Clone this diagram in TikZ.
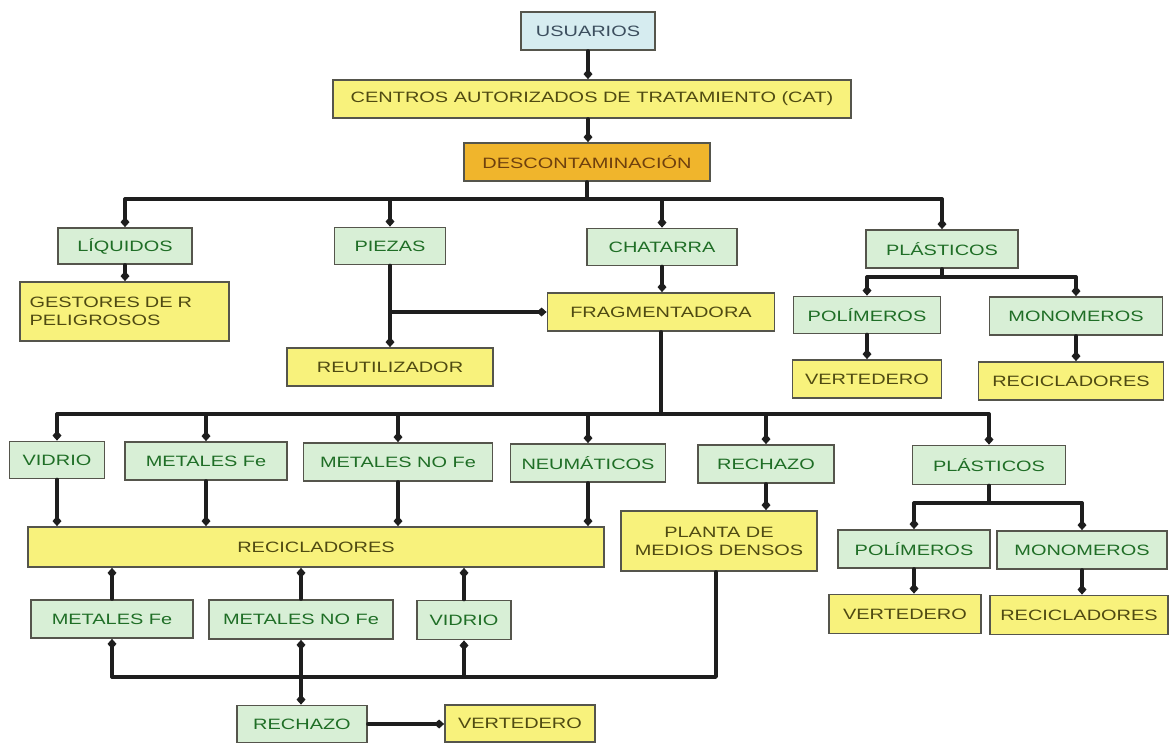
\documentclass[tikz,border=0pt]{standalone}
\usepackage{fontspec}
\setmainfont[FakeStretch=1.33]{Liberation Sans}
\usepackage{tikz}
\usetikzlibrary{arrows.meta,positioning}

\definecolor{cyanfill}{HTML}{D6ECF0}
\definecolor{cyantext}{HTML}{3C4E5E}
\definecolor{yelfill}{HTML}{F8F27C}
\definecolor{yeltext}{HTML}{4F4A12}
\definecolor{grfill}{HTML}{D8EFD6}
\definecolor{grtext}{HTML}{1F6E26}
\definecolor{orfill}{HTML}{F0B52C}
\definecolor{ortext}{HTML}{6E400E}
\definecolor{boxline}{HTML}{55554C}
\definecolor{conn}{HTML}{1E1E1E}

\tikzset{
  box/.style={draw=boxline, line width=1.8pt, inner sep=2pt, align=center,
    font=\fontsize{15}{18}\selectfont},
  usrbox/.style={box, fill=cyanfill, text=cyantext},
  yelbox/.style={box, fill=yelfill, text=yeltext},
  grbox/.style={box, fill=grfill, text=grtext},
  orbox/.style={box, fill=orfill, text=ortext},
  line/.style={draw=conn, line width=3.4pt, line cap=round, line join=round},
  arr/.style={line, -{Kite[length=10pt,width=9pt,inset=5pt]}},
}

\begin{document}
\begin{tikzpicture}[x=1pt,y=-1pt]
\useasboundingbox (0,0) rectangle (1170,742);

% upper chain
\node[usrbox, minimum width=134, minimum height=38] (usu) at (588,31) {USUARIOS};
\node[yelbox, minimum width=518, minimum height=38] (cat) at (592,99) {CENTROS AUTORIZADOS DE TRATAMIENTO (CAT)};
\node[orbox, minimum width=246, minimum height=38] (desc) at (587,162) {DESCONTAMINACIÓN};

% first split
\node[grbox, minimum width=134, minimum height=36] (liq) at (125,246) {LÍQUIDOS};
\node[grbox, minimum width=111, minimum height=37] (pie) at (390,246) {PIEZAS};
\node[grbox, minimum width=150, minimum height=37] (cha) at (662,247) {CHATARRA};
\node[grbox, minimum width=152, minimum height=38] (pla) at (942,249) {PLÁSTICOS};

\node[yelbox, minimum width=209, minimum height=59, text width=190, align=left] (gest) at (124.5,311.5) {GESTORES DE R\\PELIGROSOS};
\node[yelbox, minimum width=227, minimum height=38] (frag) at (661,312) {FRAGMENTADORA};
\node[yelbox, minimum width=206, minimum height=38] (reut) at (390,367) {REUTILIZADOR};
\node[grbox, minimum width=147, minimum height=37] (pol) at (867,315) {POLÍMEROS};
\node[grbox, minimum width=173, minimum height=38] (mon) at (1076,316) {MONOMEROS};
\node[yelbox, minimum width=149, minimum height=38] (ver) at (867,379) {VERTEDERO};
\node[yelbox, minimum width=185, minimum height=38] (rec) at (1071,381) {RECICLADORES};

% after fragmentadora
\node[grbox, minimum width=95, minimum height=37] (vid) at (57,460) {VIDRIO};
\node[grbox, minimum width=162, minimum height=38] (mfe) at (206,461) {METALES Fe};
\node[grbox, minimum width=189, minimum height=38] (mnf) at (398,462) {METALES NO Fe};
\node[grbox, minimum width=155, minimum height=38] (neu) at (588,463) {NEUMÁTICOS};
\node[grbox, minimum width=136, minimum height=38] (rch) at (766,464) {RECHAZO};
\node[grbox, minimum width=153, minimum height=39] (pl2) at (989,465) {PLÁSTICOS};

\node[yelbox, minimum width=576, minimum height=40] (rbig) at (316,547) {RECICLADORES};
\node[yelbox, minimum width=196, minimum height=60] (pmd) at (719,541) {PLANTA DE\\MEDIOS DENSOS};
\node[grbox, minimum width=152, minimum height=38] (po2) at (914,549) {POLÍMEROS};
\node[grbox, minimum width=170, minimum height=38] (mo2) at (1082,550) {MONOMEROS};
\node[yelbox, minimum width=152, minimum height=39] (ve2) at (905,614) {VERTEDERO};
\node[yelbox, minimum width=178, minimum height=39] (re2) at (1079,615) {RECICLADORES};

% bottom
\node[grbox, minimum width=162, minimum height=38] (mf2) at (112,619) {METALES Fe};
\node[grbox, minimum width=184, minimum height=39] (mn2) at (301,619.5) {METALES NO Fe};
\node[grbox, minimum width=94, minimum height=39] (vi2) at (464,620) {VIDRIO};
\node[grbox, minimum width=130, minimum height=37] (rc2) at (302,724) {RECHAZO};
\node[yelbox, minimum width=150, minimum height=37] (ve3) at (520,723.5) {VERTEDERO};

% connectors
\draw[arr] (usu.south) -- (usu.south |- cat.north);
\draw[arr] (cat.south -| usu) -- (desc.north -| usu);

\coordinate (bus1) at (587,199);
\draw[line] (desc.south) -- (bus1);
\draw[line] (liq.north |- bus1) -- (pla.north |- bus1);
\foreach \n in {liq,pie,cha,pla}
  \draw[arr] (\n.north |- bus1) -- (\n.north);

\draw[arr] (liq.south) -- (liq.south |- gest.north);
\draw[arr] (pie.south) -- (pie.south |- reut.north);
\draw[arr] (pie.south |- frag.west) -- (frag.west);
\draw[arr] (cha.south) -- (cha.south |- frag.north);

\coordinate (bus2) at (942,277);
\draw[line] (pla.south) -- (bus2);
\draw[line] (pol.north |- bus2) -- (mon.north |- bus2);
\foreach \n in {pol,mon}
  \draw[arr] (\n.north |- bus2) -- (\n.north);
\draw[arr] (pol.south) -- (pol.south |- ver.north);
\draw[arr] (mon.south) -- (mon.south |- rec.north);

\coordinate (bus3) at (661,414);
\draw[line] (frag.south) -- (bus3);
\draw[line] (vid.north |- bus3) -- (pl2.north |- bus3);
\foreach \n in {vid,mfe,mnf,neu,rch,pl2}
  \draw[arr] (\n.north |- bus3) -- (\n.north);
\foreach \n in {vid,mfe,mnf,neu}
  \draw[arr] (\n.south) -- (\n.south |- rbig.north);
\draw[arr] (rch.south) -- (rch.south |- pmd.north);

\coordinate (bus4) at (989,503);
\draw[line] (pl2.south) -- (bus4);
\draw[line] (po2.north |- bus4) -- (mo2.north |- bus4);
\foreach \n in {po2,mo2}
  \draw[arr] (\n.north |- bus4) -- (\n.north);
\draw[arr] (po2.south) -- (po2.south |- ve2.north);
\draw[arr] (mo2.south) -- (mo2.south |- re2.north);

\foreach \n in {mf2,mn2,vi2}
  \draw[arr] (\n.north) -- (\n.north |- rbig.south);

\coordinate (bus5) at (716,677);
\draw[line] (pmd.south -| bus5) -- (bus5) -- (mf2.south |- bus5);
\foreach \n in {mf2,mn2,vi2}
  \draw[arr] (\n.south |- bus5) -- (\n.south);
\draw[arr] (mn2.south |- bus5) -- (mn2.south |- rc2.north);
\draw[arr] (rc2.east) -- (rc2.east -| ve3.west);
\end{tikzpicture}
\end{document}
